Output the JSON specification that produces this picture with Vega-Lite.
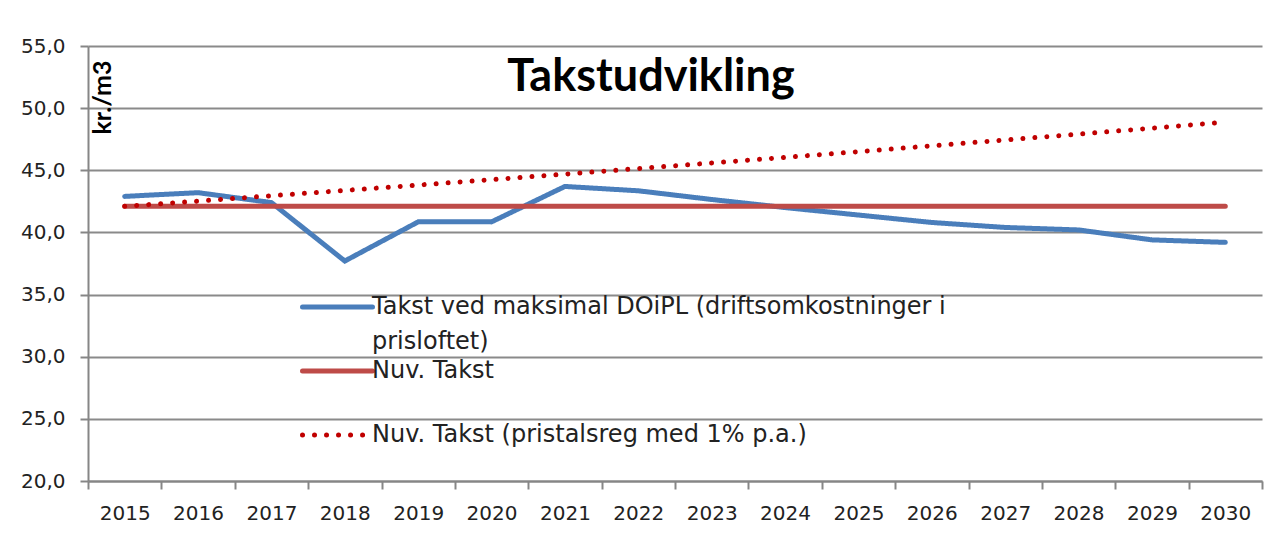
{
  "$schema": "https://vega.github.io/schema/vega-lite/v6.json",
  "autosize": "none",
  "width": 1174,
  "height": 435,
  "padding": {"left": 88, "top": 46, "right": 25, "bottom": 58},
  "background": "white",
  "title": {
    "text": "Takstudvikling",
    "font": "Lato",
    "fontSize": 45,
    "fontWeight": "bold",
    "color": "#000000",
    "frame": "group",
    "anchor": "middle",
    "baseline": "alphabetic",
    "offset": -100,
    "dx": -24
  },
  "data": {
    "values": [
      {"year": "2015", "series": "Takst ved maksimal DOiPL (driftsomkostninger i prisloftet)", "value": 42.9},
      {"year": "2016", "series": "Takst ved maksimal DOiPL (driftsomkostninger i prisloftet)", "value": 43.2},
      {"year": "2017", "series": "Takst ved maksimal DOiPL (driftsomkostninger i prisloftet)", "value": 42.4},
      {"year": "2018", "series": "Takst ved maksimal DOiPL (driftsomkostninger i prisloftet)", "value": 37.7},
      {"year": "2019", "series": "Takst ved maksimal DOiPL (driftsomkostninger i prisloftet)", "value": 40.85},
      {"year": "2020", "series": "Takst ved maksimal DOiPL (driftsomkostninger i prisloftet)", "value": 40.85},
      {"year": "2021", "series": "Takst ved maksimal DOiPL (driftsomkostninger i prisloftet)", "value": 43.7},
      {"year": "2022", "series": "Takst ved maksimal DOiPL (driftsomkostninger i prisloftet)", "value": 43.35},
      {"year": "2023", "series": "Takst ved maksimal DOiPL (driftsomkostninger i prisloftet)", "value": 42.65},
      {"year": "2024", "series": "Takst ved maksimal DOiPL (driftsomkostninger i prisloftet)", "value": 42.0},
      {"year": "2025", "series": "Takst ved maksimal DOiPL (driftsomkostninger i prisloftet)", "value": 41.4},
      {"year": "2026", "series": "Takst ved maksimal DOiPL (driftsomkostninger i prisloftet)", "value": 40.8},
      {"year": "2027", "series": "Takst ved maksimal DOiPL (driftsomkostninger i prisloftet)", "value": 40.4},
      {"year": "2028", "series": "Takst ved maksimal DOiPL (driftsomkostninger i prisloftet)", "value": 40.2},
      {"year": "2029", "series": "Takst ved maksimal DOiPL (driftsomkostninger i prisloftet)", "value": 39.4},
      {"year": "2030", "series": "Takst ved maksimal DOiPL (driftsomkostninger i prisloftet)", "value": 39.2},
      {"year": "2015", "series": "Nuv. Takst", "value": 42.1},
      {"year": "2016", "series": "Nuv. Takst", "value": 42.1},
      {"year": "2017", "series": "Nuv. Takst", "value": 42.1},
      {"year": "2018", "series": "Nuv. Takst", "value": 42.1},
      {"year": "2019", "series": "Nuv. Takst", "value": 42.1},
      {"year": "2020", "series": "Nuv. Takst", "value": 42.1},
      {"year": "2021", "series": "Nuv. Takst", "value": 42.1},
      {"year": "2022", "series": "Nuv. Takst", "value": 42.1},
      {"year": "2023", "series": "Nuv. Takst", "value": 42.1},
      {"year": "2024", "series": "Nuv. Takst", "value": 42.1},
      {"year": "2025", "series": "Nuv. Takst", "value": 42.1},
      {"year": "2026", "series": "Nuv. Takst", "value": 42.1},
      {"year": "2027", "series": "Nuv. Takst", "value": 42.1},
      {"year": "2028", "series": "Nuv. Takst", "value": 42.1},
      {"year": "2029", "series": "Nuv. Takst", "value": 42.1},
      {"year": "2030", "series": "Nuv. Takst", "value": 42.1},
      {"year": "2015", "series": "Nuv. Takst (pristalsreg med 1% p.a.)", "value": 42.1},
      {"year": "2016", "series": "Nuv. Takst (pristalsreg med 1% p.a.)", "value": 42.52},
      {"year": "2017", "series": "Nuv. Takst (pristalsreg med 1% p.a.)", "value": 42.95},
      {"year": "2018", "series": "Nuv. Takst (pristalsreg med 1% p.a.)", "value": 43.38},
      {"year": "2019", "series": "Nuv. Takst (pristalsreg med 1% p.a.)", "value": 43.81},
      {"year": "2020", "series": "Nuv. Takst (pristalsreg med 1% p.a.)", "value": 44.25},
      {"year": "2021", "series": "Nuv. Takst (pristalsreg med 1% p.a.)", "value": 44.69},
      {"year": "2022", "series": "Nuv. Takst (pristalsreg med 1% p.a.)", "value": 45.14},
      {"year": "2023", "series": "Nuv. Takst (pristalsreg med 1% p.a.)", "value": 45.59},
      {"year": "2024", "series": "Nuv. Takst (pristalsreg med 1% p.a.)", "value": 46.04},
      {"year": "2025", "series": "Nuv. Takst (pristalsreg med 1% p.a.)", "value": 46.5},
      {"year": "2026", "series": "Nuv. Takst (pristalsreg med 1% p.a.)", "value": 46.97},
      {"year": "2027", "series": "Nuv. Takst (pristalsreg med 1% p.a.)", "value": 47.44},
      {"year": "2028", "series": "Nuv. Takst (pristalsreg med 1% p.a.)", "value": 47.91},
      {"year": "2029", "series": "Nuv. Takst (pristalsreg med 1% p.a.)", "value": 48.39},
      {"year": "2030", "series": "Nuv. Takst (pristalsreg med 1% p.a.)", "value": 48.88}
    ]
  },
  "mark": {"type": "line", "strokeWidth": 5, "strokeCap": "round", "strokeJoin": "miter"},
  "encoding": {
    "x": {
      "field": "year",
      "type": "ordinal",
      "scale": {"paddingInner": 0, "paddingOuter": 0},
      "axis": {
        "title": null,
        "labelAngle": 0,
        "tickBand": "extent",
        "grid": false,
        "domainColor": "#868686",
        "domainWidth": 2,
        "tickColor": "#868686",
        "tickWidth": 2,
        "tickSize": 8,
        "labelFont": "DejaVu Sans",
        "labelFontSize": 20,
        "labelColor": "#222222",
        "labelPadding": 14
      }
    },
    "y": {
      "field": "value",
      "type": "quantitative",
      "scale": {"domain": [20, 55], "nice": false, "zero": false},
      "axis": {
        "values": [20, 25, 30, 35, 40, 45, 50, 55],
        "labelExpr": "replace(format(datum.value, '.1f'), '.', ',')",
        "title": "kr./m3",
        "titleFont": "Lato",
        "titleFontSize": 25,
        "titleFontWeight": "bold",
        "titleColor": "#000000",
        "titleAngle": -90,
        "titleX": 22,
        "titleY": 14,
        "titleAlign": "right",
        "titleBaseline": "alphabetic",
        "grid": true,
        "gridColor": "#8a8a8a",
        "gridWidth": 2,
        "domainColor": "#868686",
        "domainWidth": 2,
        "tickColor": "#868686",
        "tickWidth": 2,
        "tickSize": 8,
        "labelFont": "DejaVu Sans",
        "labelFontSize": 20,
        "labelColor": "#222222",
        "labelPadding": 15
      }
    },
    "color": {
      "field": "series",
      "type": "nominal",
      "sort": null,
      "scale": {
        "domain": ["Takst ved maksimal DOiPL (driftsomkostninger i prisloftet)", "Nuv. Takst", "Nuv. Takst (pristalsreg med 1% p.a.)"],
        "range": ["#4A7EBB", "#BE4B48", "#C00000"]
      },
      "legend": {
        "orient": "none",
        "legendX": 212,
        "legendY": 247,
        "title": null,
        "symbolType": "stroke",
        "symbolSize": 4900,
        "symbolStrokeWidth": 5,
        "labelFont": "DejaVu Sans",
        "labelFontSize": 24,
        "labelColor": "#222222",
        "labelOffset": -3,
        "labelLimit": 900,
        "rowPadding": 0,
        "clipHeight": 64,
        "labelExpr": "datum.label == 'Takst ved maksimal DOiPL (driftsomkostninger i prisloftet)' ? ['Takst ved maksimal DOiPL (driftsomkostninger i', 'prisloftet)'] : datum.label",
        "encode": {
          "symbols": {"update": {"strokeCap": {"value": "round"}, "y": {"value": 14}}},
          "labels": {"update": {"lineHeight": {"value": 35}, "y": {"value": 14}}}
        }
      }
    },
    "strokeDash": {
      "field": "series",
      "type": "nominal",
      "sort": null,
      "scale": {
        "domain": ["Takst ved maksimal DOiPL (driftsomkostninger i prisloftet)", "Nuv. Takst", "Nuv. Takst (pristalsreg med 1% p.a.)"],
        "range": [[1, 0], [1, 0], [0.01, 12]]
      },
      "legend": null
    }
  },
  "config": {
    "view": {"stroke": null}
  }
}
